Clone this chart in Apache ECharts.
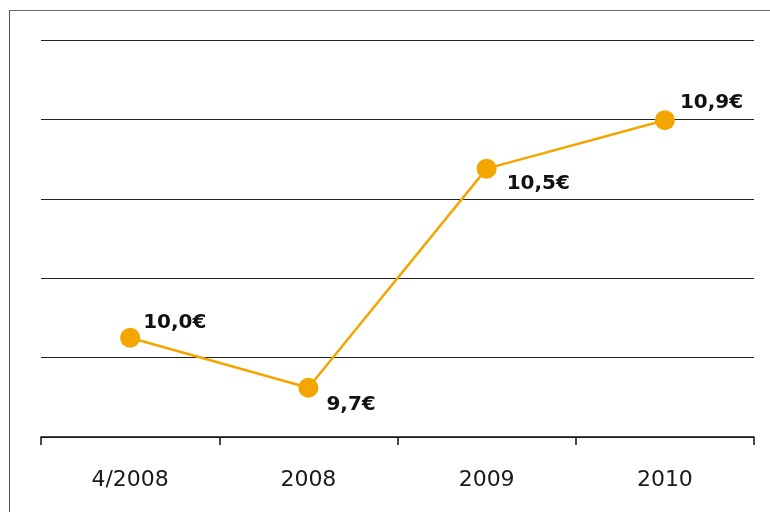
<!DOCTYPE html>
<html>
<head>
<meta charset="utf-8">
<script src="https://cdn.jsdelivr.net/npm/echarts@6/dist/echarts.min.js"></script>
<style>
  html, body { margin: 0; padding: 0; background: #fff; overflow: hidden; }
  #frame {
    position: absolute; left: 9px; top: 10px; width: 800px; height: 600px;
    border-top: 1.5px solid #666; border-left: 1.5px solid #555;
  }
  #PriceChart { position: absolute; left: 0; top: 0; width: 770px; height: 512px; }
</style>
</head>
<body>
<div id="frame"></div>
<div id="PriceChart"></div>
<script>
// categories on the x axis
const periods = ["4/2008", "2008", "2009", "2010"];
// printed values (labels)
const prices = [10.0, 9.7, 10.5, 10.9];
// vertical level of each point as drawn in the picture (grid units 0..5)
const plotLevels = [1.25, 0.62, 3.38, 3.99];

const labelOffsets = [[0, -15], [5, 17], [7, 15], [2, -17]];

const chart = echarts.init(document.getElementById("PriceChart"));

const option = {
  animation: false,
  grid: { left: 41, right: 16, top: 40, bottom: 75 },
  xAxis: {
    type: "category",
    data: periods,
    boundaryGap: true,
    axisLine: { lineStyle: { color: "#111", width: 1.5 } },
    axisTick: { show: true, length: 8, lineStyle: { color: "#111", width: 1.5 } },
    axisLabel: {
      margin: 32,
      fontSize: 22,
      color: "#1a1a1a",
      fontFamily: "DejaVu Sans",
    },
  },
  yAxis: {
    type: "value",
    min: 0,
    max: 5,
    interval: 1,
    axisLabel: { show: false },
    axisLine: { show: false },
    axisTick: { show: false },
    splitLine: { lineStyle: { color: "#222", width: 1.2 } },
  },
  series: [
    {
      type: "line",
      data: plotLevels.map((v, i) => ({
        value: v,
        label: {
          show: true,
          position: "right",
          distance: 3,
          offset: labelOffsets[i],
          formatter: () => prices[i].toFixed(1).replace(".", ",") + "€",
        },
      })),
      symbol: "circle",
      symbolSize: 20,
      lineStyle: { color: "#F5A500", width: 2.5 },
      itemStyle: { color: "#F5A500" },
      label: {
        fontSize: 20,
        fontWeight: "bold",
        color: "#111",
        fontFamily: "DejaVu Sans",
      },
    },
  ],
};

chart.setOption(option);
</script>
</body>
</html>
